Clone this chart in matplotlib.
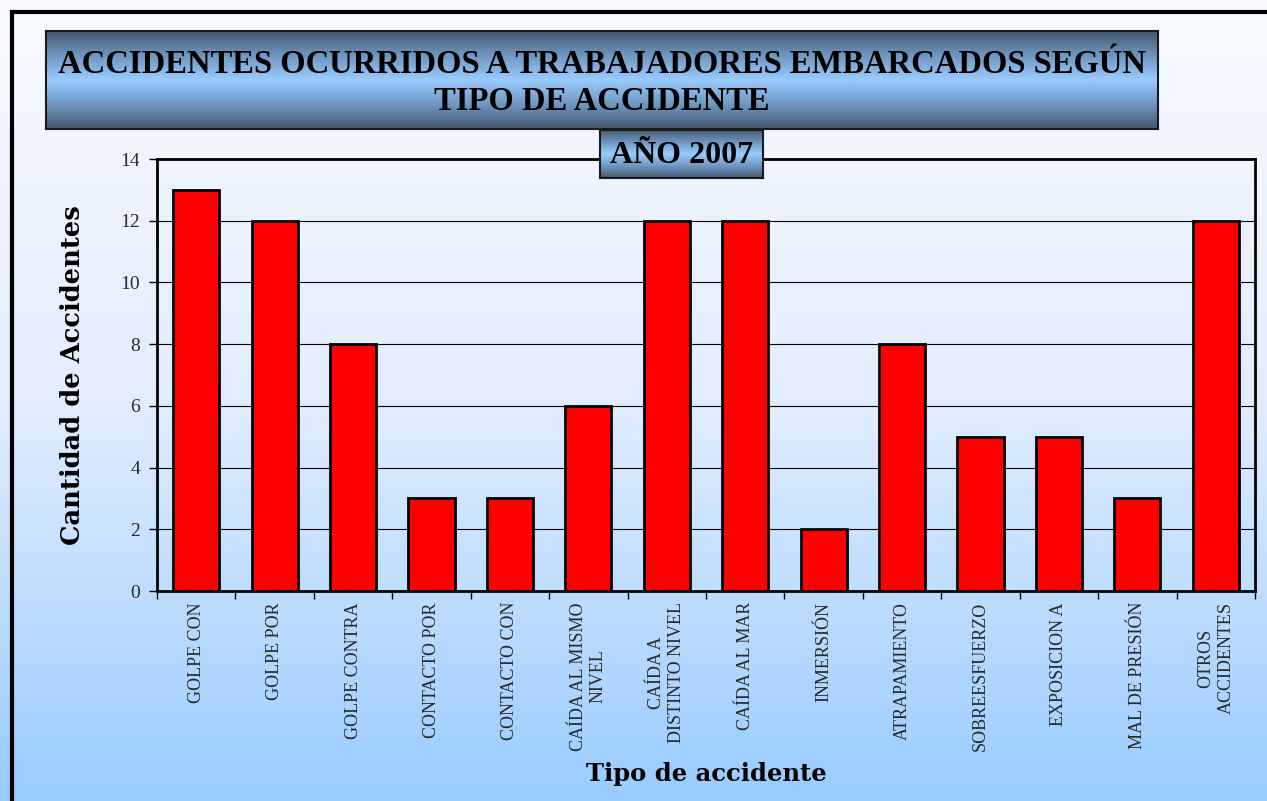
import numpy as np
import matplotlib
matplotlib.use("Agg")
import matplotlib.pyplot as plt
from matplotlib.colors import LinearSegmentedColormap
from matplotlib.lines import Line2D

# Data
categories = [
    "GOLPE CON", "GOLPE POR", "GOLPE CONTRA", "CONTACTO POR", "CONTACTO CON",
    "CAÍDA AL MISMO\nNIVEL", "CAÍDA A\nDISTINTO NIVEL", "CAÍDA AL MAR",
    "INMERSIÓN", "ATRAPAMIENTO", "SOBREESFUERZO", "EXPOSICION A",
    "MAL DE PRESIÓN", "OTROS\nACCIDENTES",
]
accidents = [13, 12, 8, 3, 3, 6, 12, 12, 2, 8, 5, 5, 3, 12]
y_ticks = [0, 2, 4, 6, 8, 10, 12, 14]

title = "ACCIDENTES OCURRIDOS A TRABAJADORES EMBARCADOS SEGÚN\nTIPO DE ACCIDENTE"
subtitle = "AÑO 2007"
serif = ["Liberation Serif", "DejaVu Serif"]

W, H = 1267, 801
fig = plt.figure(figsize=(W / 100, H / 100), dpi=100)

# background gradient, near white at top to light blue at bottom
bg = fig.add_axes([0, 0, 1, 1], zorder=-10)
bg_cmap = LinearSegmentedColormap.from_list("bg", ["#f8faff", "#e2edfd", "#99ccff"])
bg.imshow(np.linspace(0, 1, 256).reshape(-1, 1), cmap=bg_cmap, aspect="auto",
          extent=[0, 1, 0, 1])
bg.set_xlim(0, 1)
bg.set_ylim(0, 1)
bg.axis("off")

# outer frame (left and top only visible)
fig.add_artist(Line2D([12 / W, 12 / W], [0, 1 - 12 / H], transform=fig.transFigure,
                      color="black", lw=3))
fig.add_artist(Line2D([12 / W, 1], [1 - 12 / H, 1 - 12 / H], transform=fig.transFigure,
                      color="black", lw=3))


def gradient_box(x0, y0, x1, y1, text, size):
    """Box with dark-light-dark vertical gradient and centred bold text."""
    box = fig.add_axes([x0 / W, 1 - y1 / H, (x1 - x0) / W, (y1 - y0) / H], zorder=5)
    cmap = LinearSegmentedColormap.from_list(
        "box", ["#44586f", "#7096c0", "#99ccff", "#7096c0", "#44586f"])
    box.imshow(np.linspace(0, 1, 256).reshape(-1, 1), cmap=cmap, aspect="auto",
               extent=[0, 1, 0, 1])
    box.set_xlim(0, 1)
    box.set_ylim(0, 1)
    box.set_xticks([])
    box.set_yticks([])
    for s in box.spines.values():
        s.set_linewidth(1.5)
        s.set_color("#1a1a1a")
    box.text(0.5, 0.47, text, ha="center", va="center", fontsize=size,
             fontweight="bold", family=serif, linespacing=1.22)
    return box


gradient_box(46, 31, 1158, 129, title, 23.5)

# main axes
ax = fig.add_axes([157 / W, 1 - 591 / H, (1255 - 157) / W, (591 - 159) / H])
ax.patch.set_alpha(0)
x = np.arange(len(categories))
ax.bar(x, accidents, width=0.59, color="#ff0000", edgecolor="black", linewidth=2,
       zorder=3)

ax.set_xlim(-0.5, len(categories) - 0.5)
ax.set_ylim(0, 14)
ax.set_yticks(y_ticks)
ax.set_yticklabels([str(v) for v in y_ticks], family=serif, fontsize=14, color="#2a2a2a")
ax.yaxis.grid(True, color="black", linewidth=0.8, zorder=0)
ax.tick_params(axis="y", direction="out", length=6, width=1, pad=6)

# ticks on category boundaries, labels at centres
ax.set_xticks(np.arange(len(categories) + 1) - 0.5)
ax.set_xticklabels([])
ax.tick_params(axis="x", which="major", direction="out", length=6, width=1)
ax.set_xticks(x, minor=True)
ax.set_xticklabels(categories, minor=True, rotation=90, family=serif, fontsize=13,
                   ha="center", va="top", multialignment="center", color="#2a2a2a",
                   linespacing=1.25)
ax.tick_params(axis="x", which="minor", length=0, pad=8)

for s in ax.spines.values():
    s.set_linewidth(2)

ax.set_ylabel("Cantidad de Accidentes", family=["DejaVu Serif"], fontweight="bold",
              fontsize=18.5)
ax.yaxis.set_label_coords(-0.066, 0.5)
ax.set_xlabel("Tipo de accidente", family=["DejaVu Serif"], fontweight="bold",
              fontsize=17.5)
ax.xaxis.set_label_coords(0.5, -0.395)

gradient_box(600, 130, 763, 178, subtitle, 23)

fig.savefig("out.png", dpi=100)
